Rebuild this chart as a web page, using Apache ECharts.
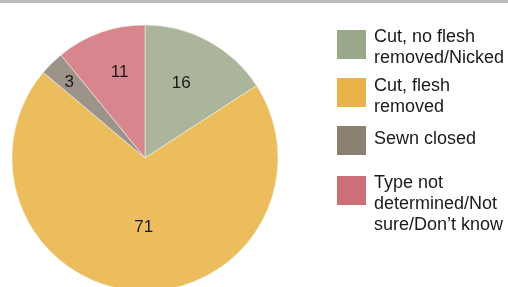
<!DOCTYPE html>
<html>
<head>
<meta charset="utf-8">
<script src="https://cdn.jsdelivr.net/npm/echarts@6/dist/echarts.min.js"></script>
<style>
  html, body { margin: 0; padding: 0; background: #fff; }
  #chart { width: 508px; height: 287px; }
</style>
</head>
<body>
<div id="chart"></div>
<script>
// categories and values, clockwise from the top
const categories = ['Cut, no flesh removed/Nicked', 'Cut, flesh removed', 'Sewn closed', 'Type not determined/Not sure/Don\u2019t know'];
const values = [16, 71, 3, 11];
// legend text as it is broken in the picture
const legendText = ['Cut, no flesh\nremoved/Nicked', 'Cut, flesh\nremoved', 'Sewn closed', 'Type not\ndetermined/Not\nsure/Don\u2019t know'];

const sliceColors = ['#aab59b', '#ecbd5d', '#9c948b', '#d6868c'];
const legendColors = ['#98a888', '#e8b349', '#8b8173', '#cc6f79'];

// where the labels sit relative to ECharts' "inside" spot
const labelOffsets = [[3, -14], [3, 0], [-27, -26], [-2, -20]];
// legend swatch tops and text tops (px)
const swatchTops = [30, 78, 126, 176];
const textTops = [27, 76, 129, 173];

const chart = echarts.init(document.getElementById('chart'));

// legend drawn by hand: the built-in one centres multi-line text on the swatch
let graphics = [{
  type: 'rect',
  left: 0,
  top: 0,
  shape: { width: 508, height: 3 },
  style: { fill: '#bcbcc0' }
}];
for (let i = 0; i < categories.length; i++) {
  graphics.push({
    type: 'rect',
    x: 337,
    y: swatchTops[i],
    shape: { width: 29, height: 29 },
    style: { fill: legendColors[i] }
  });
  graphics.push({
    type: 'text',
    x: 374,
    y: textTops[i],
    style: {
      text: legendText[i],
      fontFamily: 'Liberation Sans, Arial, sans-serif',
      fontSize: 18,
      lineHeight: 21,
      fill: '#1a1a1a',
      verticalAlign: 'top'
    }
  });
}

let pieData = [];
for (let i = 0; i < categories.length; i++) {
  pieData.push({
    name: categories[i],
    value: values[i],
    itemStyle: { color: sliceColors[i] },
    label: { offset: labelOffsets[i] }
  });
}

chart.setOption({
  animation: false,
  graphic: graphics,
  series: [{
    type: 'pie',
    center: [145, 158],
    radius: 133,
    startAngle: 90,
    clockwise: true,
    emphasis: { disabled: true },
    itemStyle: { borderColor: '#f4f0e8', borderWidth: 0.6 },
    label: {
      show: true,
      position: 'inside',
      formatter: '{c}',
      fontFamily: 'Liberation Sans, Arial, sans-serif',
      fontSize: 17,
      color: '#1a1a1a'
    },
    labelLine: { show: false },
    data: pieData
  }]
});
</script>
</body>
</html>
